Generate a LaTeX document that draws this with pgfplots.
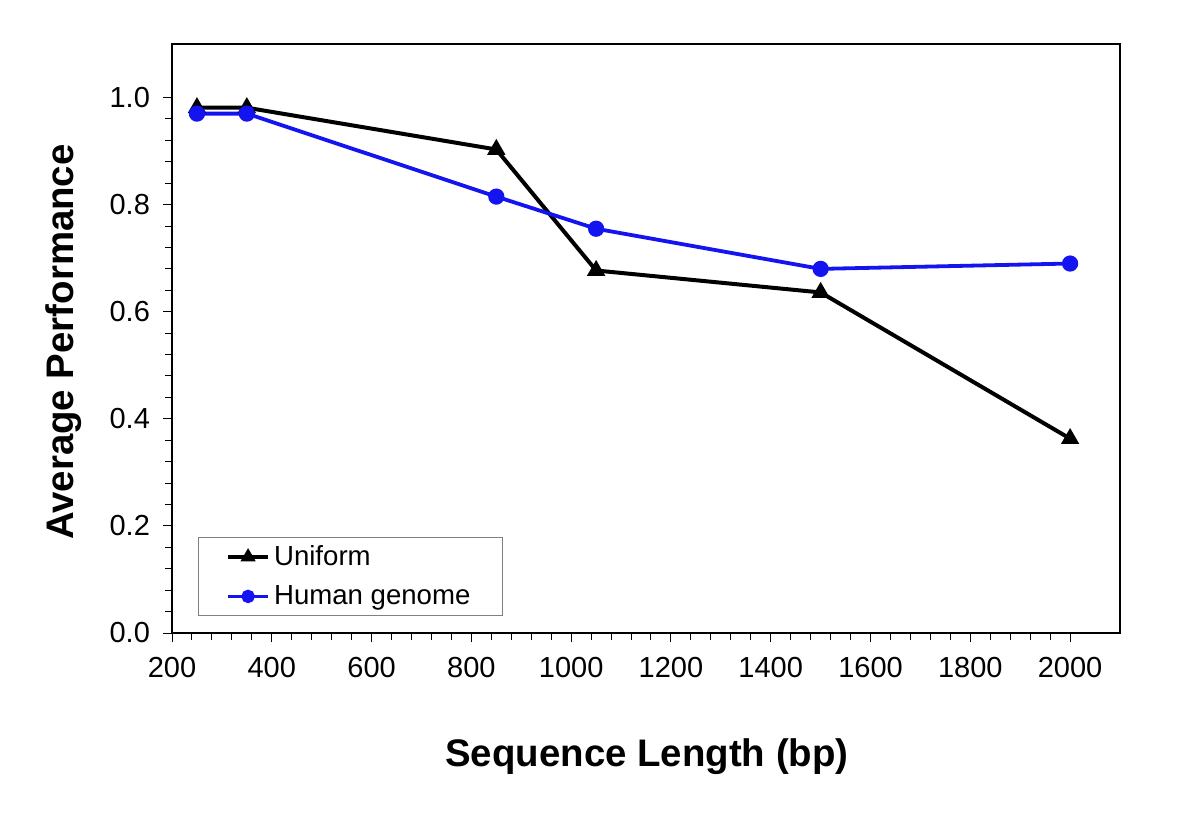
\documentclass[border=0pt]{standalone}
\usepackage{fontspec}
\setmainfont{Liberation Sans}
\usepackage{pgfplots}
\pgfplotsset{compat=1.18}
\definecolor{hblue}{RGB}{20,20,240}
\begin{document}
\begin{tikzpicture}
\path[use as bounding box] (0,0) rectangle (600pt,410pt);
\begin{axis}[
  at={(86pt,93.5pt)}, anchor=south west,
  scale only axis, width=474pt, height=294.5pt,
  xmin=200, xmax=2100, ymin=0, ymax=1.1,
  xtick={200,400,...,2000},
  ytick={0,0.2,...,1.0},
  minor x tick num=4, minor y tick num=4,
  tick align=outside, tick pos=left,
  major tick length=4.5pt, minor tick length=3.5pt,
  every tick/.style={black, line width=0.5pt},
  axis line style={line width=1pt},
  /pgf/number format/assume math mode=true,
  yticklabel style={/pgf/number format/fixed, /pgf/number format/fixed zerofill, /pgf/number format/precision=1, xshift=-3pt},
  xticklabel style={/pgf/number format/1000 sep={}, yshift=-4pt},
  ticklabel style={font=\fontsize{14.5}{17}\selectfont},
  xlabel={Sequence Length (bp)},
  ylabel={Average Performance},
  label style={font=\fontsize{19.2}{22}\selectfont\bfseries},
  xlabel style={at={(axis description cs:0.501,-0.21)}, anchor=center},
  ylabel style={at={(axis description cs:-0.114,0.494)}, anchor=center},
  legend style={at={(0.027,0.029)}, anchor=south west, draw=gray, line width=0.5pt,
    font=\fontsize{13.8}{16}\selectfont, inner xsep=14pt, inner ysep=2pt,
    row sep=4.5pt},
  legend cell align=left,
  legend image code/.code={\draw[mark repeat=2,mark phase=2,#1,mark size=2.4pt] plot coordinates {(0pt,0pt)(10pt,0pt)(20pt,0pt)};},
]
\addplot[black, line width=2pt, mark=triangle*, mark size=3.3pt, mark options={solid}] coordinates {
 (250,0.981) (350,0.981) (850,0.903) (1050,0.677) (1500,0.636) (2000,0.363)
};
\addlegendentry{Uniform}
\addplot[hblue, line width=1.9pt, mark=*, mark size=3.1pt] coordinates {
 (250,0.970) (350,0.970) (850,0.815) (1050,0.755) (1500,0.680) (2000,0.690)
};
\addlegendentry{Human genome}
\end{axis}
\end{tikzpicture}
\end{document}
